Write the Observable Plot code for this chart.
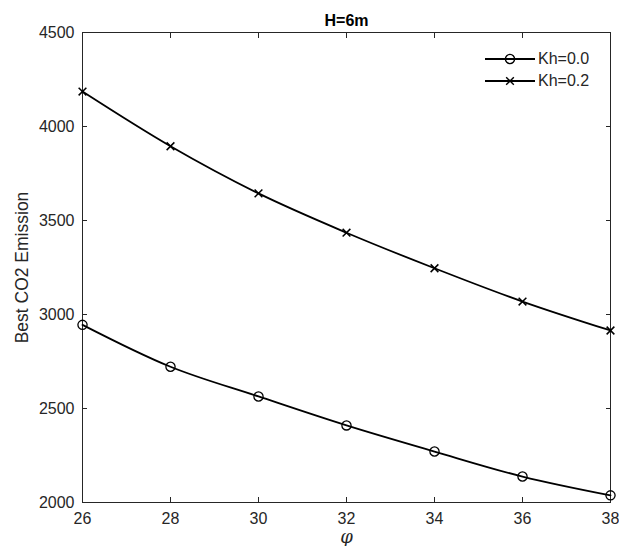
<!DOCTYPE html>
<html>
<head>
<meta charset="utf-8">
<script src="https://cdn.jsdelivr.net/npm/d3@7"></script>
<script src="https://cdn.jsdelivr.net/npm/@observablehq/plot@0.6"></script>
<style>
  html, body { margin: 0; padding: 0; background: #fff; }
  #wrap { position: relative; width: 619px; height: 546px; font-family: "Liberation Sans", Arial, sans-serif; }
  #legend { position: absolute; left: 484px; top: 48px; font-size: 16px; color: #262626; }
  #legend .row { display: flex; align-items: center; height: 22px; }
  #legend svg { display: block; margin-right: 2px; }
</style>
</head>
<body>
<div id="wrap"></div>
<script>
const phi = [26, 28, 30, 32, 34, 36, 38];
const kh00 = [2945, 2722, 2564, 2410, 2271, 2138, 2038];
const kh02 = [4186, 3895, 3644, 3435, 3246, 3069, 2915];
const seriesNames = ["Kh=0.0", "Kh=0.2"];
const seriesSymbols = ["circle", "times"];
const xTicks = [26, 28, 30, 32, 34, 36, 38];
const yTicks = [2000, 2500, 3000, 3500, 4000, 4500];
const title = "H=6m";
const xLabel = "φ";
const yLabel = "Best CO2 Emission";

const ink = "#262626";
const data = [];
phi.forEach((p, i) => {
  data.push({phi: p, value: kh00[i], series: seriesNames[0]});
  data.push({phi: p, value: kh02[i], series: seriesNames[1]});
});

const chart = Plot.plot({
  width: 619,
  height: 546,
  marginLeft: 82,
  marginRight: 9,
  marginTop: 32,
  marginBottom: 44,
  style: {fontFamily: "'Liberation Sans', Arial, sans-serif", fontSize: "16px", color: ink, background: "#fff"},
  x: {domain: [26, 38]},
  y: {domain: [2000, 4500]},
  marks: [
    Plot.frame({stroke: ink, strokeWidth: 1}),
    Plot.axisX(xTicks, {anchor: "bottom", tickSize: -5, tickPadding: 15, label: null, fill: ink, stroke: ink, fontSize: 16}),
    Plot.axisX(xTicks, {anchor: "top", tickSize: -5, text: null, label: null, stroke: ink}),
    Plot.axisY(yTicks, {anchor: "left", tickSize: -5, tickPadding: 13, label: null, fill: ink, stroke: ink, fontSize: 16, tickFormat: d => String(d)}),
    Plot.axisY(yTicks, {anchor: "right", tickSize: -5, text: null, label: null, stroke: ink}),
    Plot.line(data, {x: "phi", y: "value", z: "series", stroke: "#000", strokeWidth: 1.8, curve: "monotone-x"}),
    Plot.dot(data.filter(d => d.series === seriesNames[0]), {x: "phi", y: "value", symbol: () => seriesSymbols[0], r: 4.6, stroke: "#000", strokeWidth: 1.3, fill: "none"}),
    Plot.dot(data.filter(d => d.series === seriesNames[1]), {x: "phi", y: "value", symbol: () => seriesSymbols[1], r: 3.6, stroke: "#000", strokeWidth: 1.5, fill: "none"}),
    Plot.text([title], {frameAnchor: "top", lineAnchor: "middle", dy: -12, fontWeight: "bold", fontSize: 16, fill: "#000"}),
    Plot.text([xLabel], {frameAnchor: "bottom", lineAnchor: "middle", dy: 35, fontFamily: "'DejaVu Serif', 'Liberation Serif', serif", fontStyle: "italic", fontSize: 18, fill: ink}),
    Plot.text([yLabel], {frameAnchor: "left", textAnchor: "middle", lineAnchor: "middle", dx: -60, rotate: -90, fontSize: 17.5, fill: ink})
  ]
});
document.getElementById("wrap").appendChild(chart);

// legend overlay
const legend = document.createElement("div");
legend.id = "legend";
seriesNames.forEach((name, i) => {
  const row = document.createElement("div");
  row.className = "row";
  const sym = d3.symbol(seriesSymbols[i] === "circle" ? d3.symbolCircle : d3.symbolTimes, seriesSymbols[i] === "circle" ? 66 : 40)();
  row.innerHTML = `<svg width="52" height="14"><line x1="1" x2="51" y1="7" y2="7" stroke="#000" stroke-width="1.8"/><path d="${sym}" transform="translate(26,7)" fill="none" stroke="#000" stroke-width="1.4"/></svg><span>${name}</span>`;
  legend.appendChild(row);
});
document.getElementById("wrap").appendChild(legend);
</script>
</body>
</html>
